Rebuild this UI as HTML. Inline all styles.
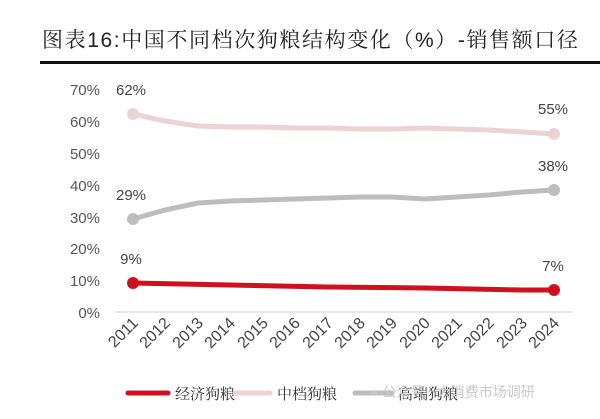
<!DOCTYPE html>
<html><head><meta charset="utf-8"><style>
body{margin:0;background:#fff;width:600px;height:414px;overflow:hidden}
</style></head><body>
<svg width="600" height="414" xmlns="http://www.w3.org/2000/svg" font-family="Liberation Sans, Noto Sans CJK SC, sans-serif">
<text x="42" y="47" font-size="21" fill="#222" font-family="Liberation Sans, Noto Serif CJK SC, serif" letter-spacing="1.6">图表16:中国不同档次狗粮结构变化（%）-销售额口径</text>
<rect x="40" y="61" width="560" height="3" fill="#111"/>
<g font-size="15" fill="#555" text-anchor="end">
<text x="100" y="95">70%</text><text x="100" y="127">60%</text><text x="100" y="159">50%</text><text x="100" y="191">40%</text><text x="100" y="223">30%</text><text x="100" y="254">20%</text><text x="100" y="286">10%</text><text x="100" y="318">0%</text>
</g>
<line x1="115" y1="312" x2="572" y2="312" stroke="#d0d0d0" stroke-width="1"/>
<polyline fill="none" stroke="#ecd2d5" stroke-width="5" stroke-linejoin="round" points="133,114 165,121 198,126 230,127 263,127 295,128 328,128 360,129 392,129 425,128 457,129 489,130 522,132 554,134"/>
<circle cx="133" cy="114" r="6" fill="#ecd2d5"/><circle cx="554" cy="134" r="6" fill="#ecd2d5"/>
<polyline fill="none" stroke="#bdbdbd" stroke-width="5" stroke-linejoin="round" points="133,219 165,210 198,203 230,201 263,200 295,199 328,198 360,197 392,197 425,199 457,197 489,195 522,192 554,190"/>
<circle cx="133" cy="219" r="6" fill="#bdbdbd"/><circle cx="554" cy="190" r="6" fill="#bdbdbd"/>
<polyline fill="none" stroke="#d0101e" stroke-width="5" stroke-linejoin="round" points="133,283 230,285 328,287 425,288 522,290 554,290"/>
<circle cx="133" cy="283" r="6" fill="#d0101e"/><circle cx="554" cy="290" r="6" fill="#d0101e"/>
<g font-size="15" fill="#444" text-anchor="middle">
<text x="131" y="95">62%</text><text x="553" y="114">55%</text>
<text x="131" y="200">29%</text><text x="553" y="171">38%</text>
<text x="131" y="264">9%</text><text x="553" y="271">7%</text>
</g>
<g font-size="16" fill="#444" text-anchor="end">
<text transform="translate(139,324) rotate(-45)">2011</text>
<text transform="translate(171,324) rotate(-45)">2012</text>
<text transform="translate(204,324) rotate(-45)">2013</text>
<text transform="translate(236,324) rotate(-45)">2014</text>
<text transform="translate(269,324) rotate(-45)">2015</text>
<text transform="translate(301,324) rotate(-45)">2016</text>
<text transform="translate(334,324) rotate(-45)">2017</text>
<text transform="translate(366,324) rotate(-45)">2018</text>
<text transform="translate(398,324) rotate(-45)">2019</text>
<text transform="translate(431,324) rotate(-45)">2020</text>
<text transform="translate(463,324) rotate(-45)">2021</text>
<text transform="translate(495,324) rotate(-45)">2022</text>
<text transform="translate(528,324) rotate(-45)">2023</text>
<text transform="translate(560,324) rotate(-45)">2024</text>
</g>
<g font-size="15" fill="#333" font-family="Liberation Sans, Noto Serif CJK SC, serif">
<line x1="128" y1="393" x2="168" y2="393" stroke="#d0101e" stroke-width="5" stroke-linecap="round"/>
<text x="175" y="399">经济狗粮</text>
<line x1="235" y1="393" x2="270" y2="393" stroke="#ecd2d5" stroke-width="5" stroke-linecap="round"/>
<text x="277" y="399">中档狗粮</text>
<line x1="355" y1="393" x2="392" y2="393" stroke="#bdbdbd" stroke-width="5" stroke-linecap="round"/>
<text x="398" y="399">高端狗粮</text>
</g>
<text x="370" y="397" font-size="14" fill="#c8c8c8">● 公众号 · 大消费市场调研</text>
</svg>
</body></html>
